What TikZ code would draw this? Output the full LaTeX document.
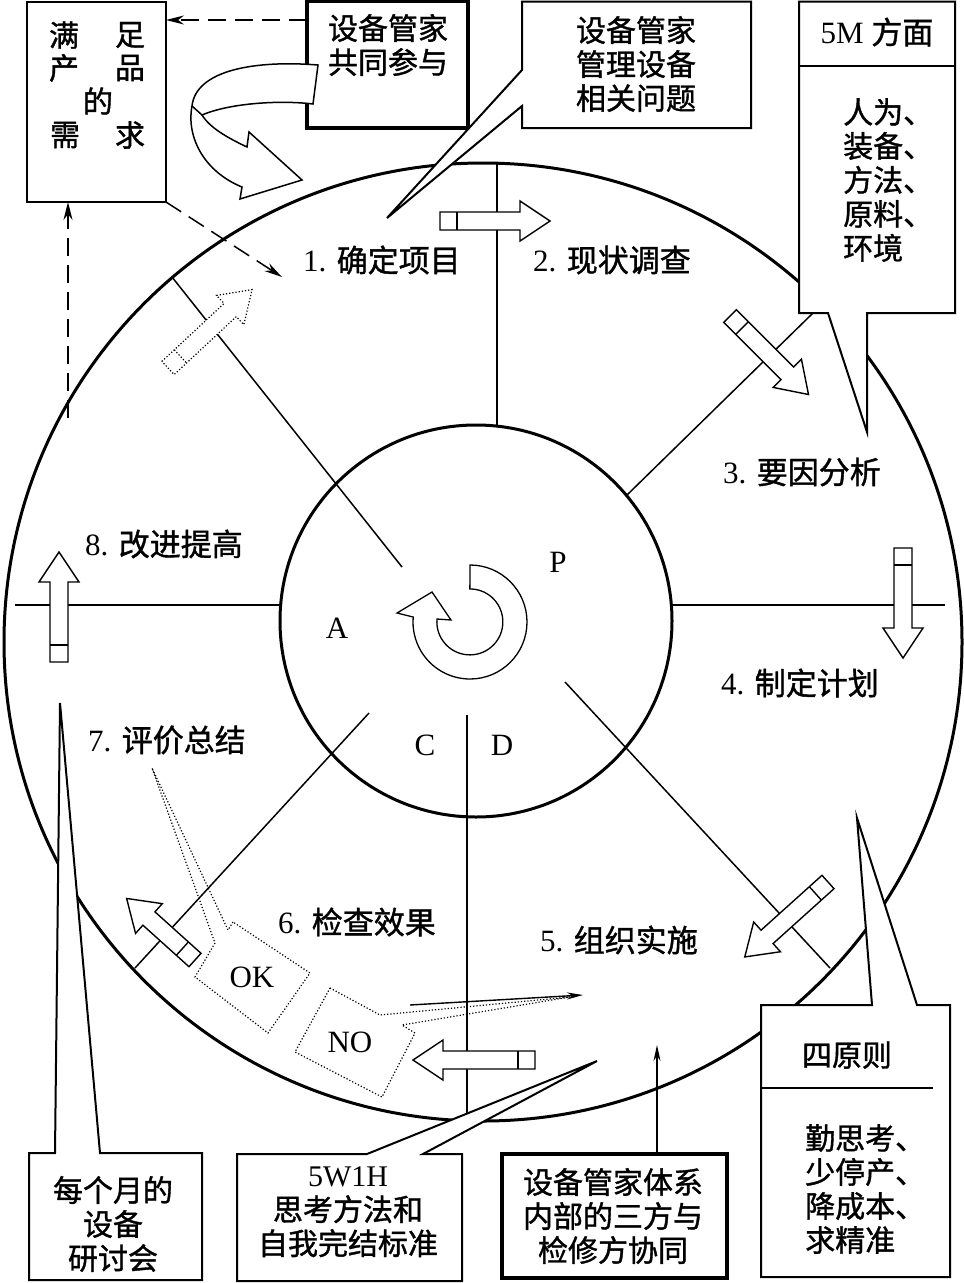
\documentclass[tikz,border=0pt]{standalone}
\usepackage{fontspec}
\setmainfont{Liberation Serif}
\newfontfamily\cjk{Noto Sans CJK SC}[FakeBold=1.2]
\usetikzlibrary{arrows.meta}
\newcommand\zh[1]{{\cjk #1}}
\newcommand\barrow[4][]{%
  \begin{scope}[shift={#2},rotate=#3]
    \draw[blockarrow,#1] (0,-9) -- ({#4-30},-9) -- ({#4-30},-20) -- (#4,0) -- ({#4-30},20) -- ({#4-30},9) -- (0,9) -- cycle;
    \draw[blockarrow,#1] (17,-9) -- (17,9);
  \end{scope}}
\tikzset{
  blockarrow/.style={draw, fill=white, line width=1.4pt, line join=miter},
  ringline/.style={line width=3pt},
  spoke/.style={line width=1.5pt},
  txt/.style={inner sep=0pt, font=\fontsize{31}{34}\selectfont},
  lbl/.style={txt, anchor=west},
  zhtxt/.style={inner sep=0pt, font=\cjk\fontsize{30}{34}\selectfont, align=center},
  boxline/.style={draw, line width=2pt, fill=white, line join=miter},
  heavybox/.style={draw, line width=3.5pt, fill=white, outer sep=0pt, inner sep=0pt},
  plainbox/.style={draw, line width=2pt, fill=white, outer sep=0pt, inner sep=0pt},
  dashedarrow/.style={line width=1.5pt, dash pattern=on 18pt off 9pt, -{Stealth[length=18pt,width=9pt]}},
  dotline/.style={line width=1.2pt, dash pattern=on 1.2pt off 2pt},
  thinarrow/.style={line width=1.4pt, -{Stealth[length=16pt,width=7pt]}},
  ribbon/.style={draw, fill=white, line width=1.5pt, line join=miter},
}
\begin{document}
\begin{tikzpicture}[x=1pt,y=-1pt]
\useasboundingbox (0,0) rectangle (964,1283);
% wheel
\draw[ringline] (483,642) circle[radius=479];
\draw[ringline] (476,621) circle[radius=196];
% spokes
\draw[spoke] (497,163) -- (497,426);
\draw[spoke] (627,495) -- (813,313);
\draw[spoke] (672,605) -- (945,605);
\draw[spoke] (15,605) -- (281,605);
\draw[spoke] (172,277) -- (402,567);
\draw[spoke] (565,682) -- (830,968);
\draw[spoke] (369,713) -- (135,968);
\draw[spoke] (467,715) -- (467,1121);
% block arrows
\barrow{(440,221)}{0}{110}
\barrow{(730,316)}{-45}{111}
\barrow{(903,548)}{-90}{110}
\barrow{(828,882)}{-138}{112}
\barrow{(535,1060)}{180}{122}
\barrow{(195,960)}{138}{92}
\barrow{(59,662)}{90}{110}
\barrow[dotline]{(168,368)}{43}{115}
% step labels
\node[lbl] (l1) at (303,260) {1. \zh{确定项目}};
\node[lbl] (l2) at (533,260) {2. \zh{现状调查}};
\node[lbl] (l3) at (723,472) {3. \zh{要因分析}};
\node[lbl] (l4) at (721,683) {4. \zh{制定计划}};
\node[lbl] (l5) at (540,940) {5. \zh{组织实施}};
\node[lbl] (l6) at (278,922) {6. \zh{检查效果}};
\node[lbl] (l7) at (88,740) {7. \zh{评价总结}};
\node[lbl] (l8) at (85,544) {8. \zh{改进提高}};
\node[txt] (P) at (558,562) {P};
\node[txt] (A) at (337,628) {A};
\node[txt] (C) at (425,745) {C};
\node[txt] (D) at (502,745) {D};
% centre cycle arrow
\draw[line width=1.3pt, line join=miter] (470,565) arc[start angle=-90, end angle=185, radius=57]
  -- (397,613) -- (432,592) -- (451,620) -- (437,619)
  arc[start angle=185, end angle=-90, radius=33] -- cycle;
% box: needs of product
\node[plainbox, minimum width=139pt, minimum height=200.5pt, anchor=north west] (b1) at (27,1.5) {};
\node[zhtxt] (m1) at (64,35) {满};
\node[zhtxt] (m2) at (130,35) {足};
\node[zhtxt] (m3) at (64,68) {产};
\node[zhtxt] (m4) at (130,68) {品};
\node[zhtxt] (m5) at (98,101) {的};
\node[zhtxt] (m6) at (65,135) {需};
\node[zhtxt] (m7) at (130,135) {求};
% box: joint participation
\node[heavybox, minimum width=161pt, minimum height=126.5pt, anchor=north west] (b2) at (307,1.5) {};
\node[zhtxt] (t2) at (388,45) {设备管家\\共同参与};
% callout: problems
\draw[boxline] (522,1.5) -- (751,1.5) -- (751,128) -- (522,128) -- (522,106) -- (387,218) -- (522,70) -- cycle;
\node[zhtxt] (t3) at (636,64) {设备管家\\管理设备\\相关问题};
% callout: 5M
\draw[boxline] (799,1.5) -- (955,1.5) -- (955,313) -- (867,313) -- (867,432) -- (828,313) -- (799,313) -- cycle;
\draw[line width=2pt] (799,66) -- (955,66);
\node[txt] (t4h) at (877,32) {5M \zh{方面}};
\node[zhtxt, align=left, anchor=west] (t4) at (843,180) {人为、\\装备、\\方法、\\原料、\\环境};
% callout: four principles
\draw[boxline] (761,1005) -- (872,1005) -- (857,818) -- (917,1005) -- (950,1005) -- (950,1277) -- (761,1277) -- cycle;
\draw[line width=2pt] (761,1088) -- (933,1088);
\node[zhtxt] (t5h) at (847,1055) {四原则};
\node[zhtxt, align=left, anchor=west] (t5) at (805,1189) {勤思考、\\少停产、\\降成本、\\求精准};
% callout: 5W1H
\draw[boxline] (237,1154) -- (367,1154) -- (597,1061) -- (423,1154) -- (462,1154) -- (462,1281) -- (237,1281) -- cycle;
\node[zhtxt] (t6) at (348,1212) {{\rmfamily 5W1H}\\思考方法和\\自我完结标准};
% box: coordination
\node[heavybox, minimum width=225pt, minimum height=124pt, anchor=north west] (b7) at (502,1154) {};
\node[zhtxt] (t7) at (613,1216) {设备管家体系\\内部的三方与\\检修方协同};
\draw[thinarrow] (b7.north -| 657,0) -- (657,1045);
% callout: monthly meeting
\draw[boxline] (29,1153) -- (55,1153) -- (60,703) -- (100,1153) -- (202,1153) -- (202,1280) -- (29,1280) -- cycle;
\node[zhtxt] (t8) at (113,1224) {每个月的\\设备\\研讨会};
% dashed connectors
\draw[dashedarrow] (b2.west |- 0,20) -- (b1.east |- 0,20);
\draw[dashedarrow] (b1.south east) -- (282,277);
\draw[dashedarrow] (68,418) -- (b1.south -| 68,0);
% twisted ribbon arrow
\draw[ribbon] (318,65) .. controls (255,60) and (196,70) .. (192,106)
  .. controls (186,138) and (205,172) .. (242,187) -- (240,199) -- (302,180) -- (249,132) -- (247,147)
  .. controls (228,138) and (210,128) .. (202,115)
  .. controls (230,103) and (280,100) .. (313,104) -- cycle;
\draw[line width=1.5pt] (192,106) -- (202,115);
% OK / NO
\draw[dotline] (233,922) -- (228,930) -- (152,768) -- (215,943) -- (195,977) -- (268,1033) -- (310,973) -- cycle;
\node[txt] (ok) at (252,977) {OK};
\draw[dotline] (330,988) -- (380,1015) -- (570,997) -- (402,1025) -- (415,1033) -- (382,1097) -- (295,1052) -- cycle;
\node[txt] (no) at (350,1042) {NO};
\draw[thinarrow] (410,1005) -- (583,995);
\end{tikzpicture}
\end{document}
